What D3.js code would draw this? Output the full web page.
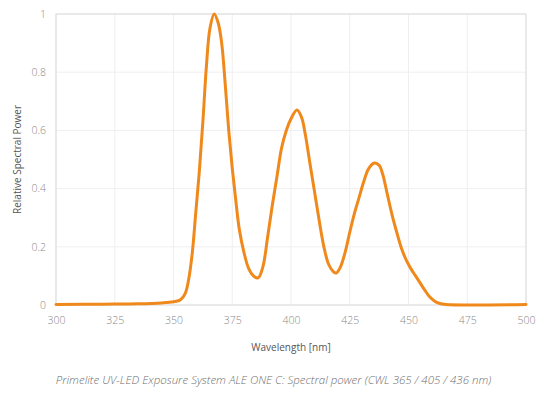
<!DOCTYPE html>
<html>
<head>
  <meta charset="UTF-8">
  <title>Spectral power</title>
  <style>
    body { margin: 0; background: #fff; }
    svg { display: block; font-family: "Open Sans", sans-serif; }
  </style>
</head>
<body>
<svg id="chart" width="555" height="399"></svg>
<script src="https://d3js.org/d3.v7.min.js"></script>
<script>

// wavelength (nm) and relative power
var wavelengths = [300, 320, 335, 345, 350, 353, 355, 356.5, 358, 359.5, 361, 362.5, 364, 365.5, 367.3,
  369, 370.5, 372, 373.5, 375, 376.5, 378, 380, 382, 384, 386, 388, 390, 392, 394, 396, 398, 400,
  402.5, 404.5, 406, 408, 410, 412, 414, 416, 418, 419.3, 421, 423, 425, 427, 429, 431, 433, 435.5,
  437.5, 439, 441, 443, 445, 447, 449, 451, 453, 455, 457, 459, 461, 463, 466, 500];
var power = [0.002, 0.003, 0.004, 0.007, 0.011, 0.018, 0.04, 0.09, 0.18, 0.32, 0.46, 0.63, 0.82, 0.95, 1.0,
  0.97, 0.9, 0.76, 0.6, 0.47, 0.36, 0.26, 0.18, 0.125, 0.1, 0.093, 0.13, 0.23, 0.34, 0.44, 0.54, 0.6, 0.64,
  0.67, 0.645, 0.59, 0.49, 0.39, 0.29, 0.2, 0.14, 0.115, 0.11, 0.13, 0.18, 0.25, 0.315, 0.37, 0.425, 0.468, 0.488,
  0.48, 0.45, 0.38, 0.31, 0.25, 0.195, 0.155, 0.125, 0.1, 0.075, 0.05, 0.028, 0.014, 0.006, 0.002, 0.002];

var xTicks = [300, 325, 350, 375, 400, 425, 450, 475, 500];
var yTicks = [0, 0.2, 0.4, 0.6, 0.8, 1];

var svg = d3.select("#chart");
var pLeft = 56, pRight = 526, pTop = 14, pBottom = 305;

var x = d3.scaleLinear().domain([300, 500]).range([pLeft, pRight]);
var y = d3.scaleLinear().domain([0, 1]).range([pBottom, pTop]);

// grid
svg.append("g").selectAll("line").data(xTicks).enter().append("line")
  .attr("x1", d => x(d)).attr("x2", d => x(d))
  .attr("y1", pTop).attr("y2", pBottom)
  .attr("stroke", "#efefef").attr("stroke-width", 1);
svg.append("g").selectAll("line").data(yTicks).enter().append("line")
  .attr("x1", pLeft).attr("x2", pRight)
  .attr("y1", d => y(d)).attr("y2", d => y(d))
  .attr("stroke", "#efefef").attr("stroke-width", 1);

// frame
svg.append("rect")
  .attr("x", pLeft).attr("y", pTop)
  .attr("width", pRight - pLeft).attr("height", pBottom - pTop)
  .attr("fill", "none").attr("stroke", "#dcdcdc").attr("stroke-width", 1);

// axes labels
var xAxis = svg.append("g")
  .attr("transform", "translate(0," + pBottom + ")")
  .call(d3.axisBottom(x).tickValues(xTicks).tickSize(0).tickPadding(12).tickFormat(d3.format("d")));
var yAxis = svg.append("g")
  .attr("transform", "translate(" + pLeft + ",0)")
  .call(d3.axisLeft(y).tickValues(yTicks).tickSize(0).tickPadding(10).tickFormat(d => d));
[xAxis, yAxis].forEach(function(a) {
  a.select(".domain").remove();
  a.selectAll("text")
    .attr("fill", "#8a8a8a")
    .style("font-family", "'Open Sans', sans-serif")
    .style("font-size", "10.5px")
    .style("font-weight", 300);
});

// line
var line = d3.line()
  .x((d, i) => x(wavelengths[i]))
  .y(d => y(d))
  .curve(d3.curveCatmullRom.alpha(0.5));

svg.append("path")
  .datum(power)
  .attr("d", line)
  .attr("fill", "none")
  .attr("stroke", "#f0891c")
  .attr("stroke-width", 3)
  .attr("stroke-linejoin", "round")
  .attr("stroke-linecap", "round");

// titles
svg.append("text")
  .attr("x", (pLeft + pRight) / 2).attr("y", 351)
  .attr("text-anchor", "middle")
  .attr("fill", "#555")
  .style("font-size", "10px")
  .text("Wavelength [nm]");

svg.append("text")
  .attr("transform", "translate(21," + ((pTop + pBottom) / 2) + ") rotate(-90)")
  .attr("text-anchor", "middle")
  .attr("fill", "#555")
  .style("font-size", "10px")
  .text("Relative Spectral Power");

svg.append("text")
  .attr("x", 273.5).attr("y", 384)
  .attr("text-anchor", "middle")
  .attr("fill", "#6f6f6f")
  .style("font-size", "11.5px")
  .style("font-style", "italic")
  .style("font-weight", 300)
  .text("Primelite UV-LED Exposure System ALE ONE C: Spectral power (CWL 365 / 405 / 436 nm)");

</script>
</body>
</html>
